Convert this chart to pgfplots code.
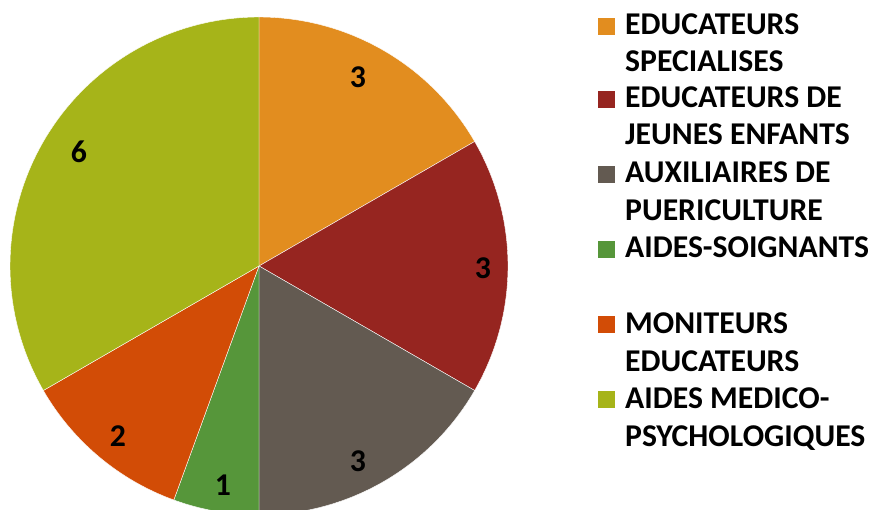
\documentclass[border=0pt]{standalone}
\usepackage{pgfplots}
\pgfplotsset{compat=1.18}
\usepackage{pgfplotstable}
\usepackage{fontspec}
\setmainfont{Carlito}[BoldFont={Carlito Bold}]

\definecolor{ci}{HTML}{E28D1F}
\definecolor{cii}{HTML}{962520}
\definecolor{ciii}{HTML}{635A51}
\definecolor{civ}{HTML}{56963A}
\definecolor{cv}{HTML}{D24C06}
\definecolor{cvi}{HTML}{A6B419}

\pgfplotstableread{
value
3
3
3
1
2
6
}\pietable

% total
\xdef\pietotal{0}
\foreach \i in {0,...,5}{%
  \pgfplotstablegetelem{\i}{value}\of\pietable
  \pgfmathsetmacro\t{\pietotal+\pgfplotsretval}%
  \xdef\pietotal{\t}%
}
% start / end angles (clockwise from 90 deg)
\xdef\cum{90}
\foreach \i [count=\j] in {0,...,5}{%
  \pgfplotstablegetelem{\i}{value}\of\pietable
  \pgfmathsetmacro\e{\cum-360*\pgfplotsretval/\pietotal}%
  \expandafter\xdef\csname pieS\romannumeral\j\endcsname{\cum}%
  \expandafter\xdef\csname pieE\romannumeral\j\endcsname{\e}%
  \expandafter\xdef\csname pieV\romannumeral\j\endcsname{\pgfplotsretval}%
  \xdef\cum{\e}%
}

\newcommand\lab{\bfseries\fontsize{31.7}{36}\selectfont}

\begin{document}
\begin{tikzpicture}
\begin{axis}[
  width=872pt, height=509pt, scale only axis,
  xmin=0, xmax=872, ymin=0, ymax=509,
  hide axis, clip=true,
]
\coordinate (ll) at (axis cs:0,0);
\coordinate (ur) at (axis cs:872,509);
\addplot[fill=ci,  draw=white, line width=0.4pt, domain=\pieEi:\pieSi,    samples=80, variable=\t] ({259+249*cos(\t)},{243+249*sin(\t)}) -- (axis cs:259,243) -- cycle;
\addplot[fill=cii, draw=white, line width=0.4pt, domain=\pieEii:\pieSii,  samples=80, variable=\t] ({259+249*cos(\t)},{243+249*sin(\t)}) -- (axis cs:259,243) -- cycle;
\addplot[fill=ciii,draw=white, line width=0.4pt, domain=\pieEiii:\pieSiii,samples=80, variable=\t] ({259+249*cos(\t)},{243+249*sin(\t)}) -- (axis cs:259,243) -- cycle;
\addplot[fill=civ, draw=white, line width=0.4pt, domain=\pieEiv:\pieSiv,  samples=40, variable=\t] ({259+249*cos(\t)},{243+249*sin(\t)}) -- (axis cs:259,243) -- cycle;
\addplot[fill=cv,  draw=white, line width=0.4pt, domain=\pieEv:\pieSv,    samples=60, variable=\t] ({259+249*cos(\t)},{243+249*sin(\t)}) -- (axis cs:259,243) -- cycle;
\addplot[fill=cvi, draw=white, line width=0.4pt, domain=\pieEvi:\pieSvi,  samples=120, variable=\t] ({259+249*cos(\t)},{243+249*sin(\t)}) -- (axis cs:259,243) -- cycle;

\node[font=\lab] at (axis cs:358,{509-77})  {\pieVi};
\node[font=\lab] at (axis cs:483,{509-268}) {\pieVii};
\node[font=\lab] at (axis cs:358,{509-461}) {\pieViii};
\node[font=\lab] at (axis cs:223,{509-485}) {\pieViv};
\node[font=\lab] at (axis cs:118,{509-436}) {\pieVv};
\node[font=\lab] at (axis cs:79,{509-152})  {\pieVvi};

% legend
\fill[ci]   (axis cs:598,{509-35})  rectangle (axis cs:615,{509-18});
\fill[cii]  (axis cs:598,{509-108}) rectangle (axis cs:615,{509-91});
\fill[ciii] (axis cs:598,{509-183}) rectangle (axis cs:615,{509-166});
\fill[civ]  (axis cs:598,{509-258}) rectangle (axis cs:615,{509-241});
\fill[cv]   (axis cs:598,{509-333}) rectangle (axis cs:615,{509-316});
\fill[cvi]  (axis cs:598,{509-408}) rectangle (axis cs:615,{509-391});

\node[font=\lab, anchor=base west, inner sep=0pt] at (axis cs:625,{509-35})  {EDUCATEURS};
\node[font=\lab, anchor=base west, inner sep=0pt] at (axis cs:625,{509-72})  {SPECIALISES};
\node[font=\lab, anchor=base west, inner sep=0pt] at (axis cs:625,{509-108}) {EDUCATEURS DE};
\node[font=\lab, anchor=base west, inner sep=0pt] at (axis cs:625,{509-145}) {JEUNES ENFANTS};
\node[font=\lab, anchor=base west, inner sep=0pt] at (axis cs:625,{509-183}) {AUXILIAIRES DE};
\node[font=\lab, anchor=base west, inner sep=0pt] at (axis cs:625,{509-221}) {PUERICULTURE};
\node[font=\lab, anchor=base west, inner sep=0pt] at (axis cs:625,{509-258}) {AIDES-SOIGNANTS};
\node[font=\lab, anchor=base west, inner sep=0pt] at (axis cs:625,{509-333}) {MONITEURS};
\node[font=\lab, anchor=base west, inner sep=0pt] at (axis cs:625,{509-371}) {EDUCATEURS};
\node[font=\lab, anchor=base west, inner sep=0pt] at (axis cs:625,{509-408}) {AIDES MEDICO-};
\node[font=\lab, anchor=base west, inner sep=0pt] at (axis cs:625,{509-446}) {PSYCHOLOGIQUES};
\end{axis}
\pgfresetboundingbox
\useasboundingbox (ll) rectangle (ur);
\end{tikzpicture}
\end{document}
